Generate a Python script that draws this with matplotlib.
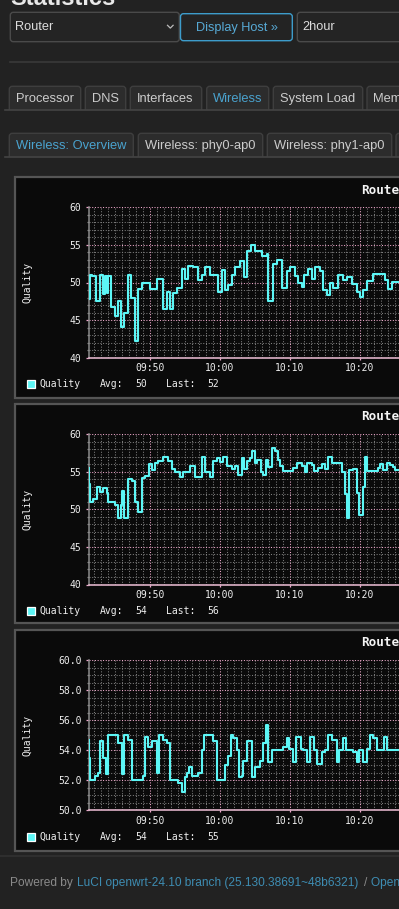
import matplotlib
matplotlib.use("Agg")
import matplotlib.pyplot as plt
from matplotlib.patches import FancyBboxPatch, Rectangle
from matplotlib.ticker import MultipleLocator, FuncFormatter, FormatStrFormatter

# page text
host_names = ["Router"]
timespans = ["2hour"]
main_tabs = ["Processor", "DNS", "Interfaces", "Wireless", "System Load", "Memory"]
sub_tabs = ["Wireless: Overview", "Wireless: phy0-ap0", "Wireless: phy1-ap0", "Wireless: phy1-ap1"]

# time in minutes after 09:40, quality values (step data)
t_overview = [1.33, 1.5, 1.71, 2.33, 2.9, 3.38, 3.62, 3.86, 4.1, 4.48, 5.05, 5.43, 5.9, 6.38,
              6.95, 7.3, 7.9, 8.38, 8.95, 10.05, 11.0, 11.95, 12.43, 12.9, 13.38, 13.86, 14.57,
              15.05, 15.52, 16.24, 16.95, 17.43, 17.9, 18.62, 19.81, 20.29, 20.76, 21.24, 21.71,
              22.19, 22.9, 23.48, 23.95, 24.43, 25.05, 26.0, 26.71, 26.95, 27.57, 28.14, 28.86,
              29.57, 30.05, 30.76, 31.24, 31.71, 32.05, 32.67, 33.14, 33.62, 34.33, 34.71, 35.29,
              35.76, 36.24, 36.95, 37.57, 38.14, 38.86, 39.57, 40.05, 40.52, 41.0, 41.95, 43.62,
              44.1, 44.57, 45.62]
q_overview = [47.8, 51.0, 50.8, 47.6, 51.0, 48.5, 50.8, 48.6, 50.8, 46.7, 45.5, 47.5, 44.1, 46.0,
              51.0, 48.0, 42.2, 49.2, 50.0, 49.1, 50.4, 46.5, 48.8, 46.5, 48.6, 49.3, 51.8,
              50.4, 52.2, 52.0, 50.3, 51.0, 52.0, 51.0, 48.7, 51.7, 49.0, 49.7, 51.0,
              52.0, 52.8, 50.7, 54.2, 55.0, 54.2, 53.5, 53.8, 47.6, 52.5, 53.0, 49.3,
              51.5, 52.1, 50.9, 50.0, 49.4, 51.0, 51.8, 50.5, 52.1, 51.5, 49.0, 48.4,
              49.9, 49.3, 51.0, 50.3, 50.7, 49.8, 48.8, 48.1, 49.0, 50.2, 51.1, 50.3,
              49.2, 50.1, 50.1]

t_phy0 = [1.33, 1.38, 1.48, 1.95, 2.43, 2.9, 3.38, 3.86, 4.1, 5.05, 5.43, 5.9, 6.1, 6.38, 6.95,
          7.43, 7.9, 8.38, 8.95, 9.33, 9.9, 10.29, 10.76, 11.24, 11.95, 12.67, 13.14, 13.62,
          14.33, 14.81, 15.76, 16.48, 17.43, 17.9, 18.62, 19.1, 19.57, 20.05, 20.52, 21.0,
          21.71, 22.19, 22.67, 23.14, 23.47, 23.85, 24.33, 24.57, 25.04, 25.38, 25.85, 26.14,
          26.57, 26.95, 27.42, 27.9, 28.38, 28.61, 29.0, 30.52, 31.0, 31.71, 32.19, 32.42,
          33.14, 33.47, 34.09, 34.57, 35.04, 35.52, 36.0, 37.42, 37.9, 38.23, 38.52, 39.09,
          39.66, 39.95, 40.52, 40.76, 41.0, 42.66, 42.9, 43.38, 43.85, 44.33, 44.8, 45.04, 45.62]
q_phy0 = [55.5, 53.4, 51.0, 51.3, 52.9, 52.3, 52.8, 52.2, 51.0, 50.6, 48.8, 50.6, 52.4, 48.9, 54.0,
          53.7, 51.0, 49.6, 54.1, 54.4, 56.0, 55.2, 56.2, 56.4, 57.0, 56.4, 55.3, 55.0,
          54.3, 55.0, 55.8, 54.3, 57.0, 54.9, 54.3, 56.4, 56.8, 56.3, 56.9, 55.8,
          55.3, 55.8, 54.5, 56.8, 55.3, 56.4, 56.8, 57.8, 56.1, 56.6, 55.0, 54.5,
          56.6, 55.6, 58.2, 57.8, 56.6, 55.7, 55.1, 55.5, 56.1, 55.7, 55.0, 56.1,
          55.9, 55.1, 55.5, 56.0, 55.3, 56.9, 56.1, 55.0, 52.0, 48.9, 55.2, 55.3,
          52.2, 49.2, 53.0, 56.9, 55.1, 55.5, 56.0, 55.2, 56.2, 55.9, 55.6, 55.2, 55.2]

t_phy1 = [1.33, 1.4, 1.48, 2.19, 2.6, 2.9, 3.38, 3.76, 4.0, 5.5, 5.98, 6.38, 6.95, 7.43, 9.1,
          9.33, 9.8, 10.29, 11.0, 11.33, 11.95, 12.43, 12.9, 14.1, 14.57, 15.05, 15.38, 15.62,
          16.0, 16.95, 17.43, 17.8, 19.1, 19.57, 20.76, 21.14, 21.57, 21.95, 22.43, 22.76,
          23.14, 23.4, 23.85, 24.57, 25.04, 25.76, 26.24, 26.6, 26.95, 27.42, 29.1, 29.57,
          29.95, 30.43, 30.9, 31.57, 31.95, 32.42, 32.9, 33.47, 33.85, 34.57, 35.04, 35.52,
          36.0, 36.7, 37.04, 37.67, 38.04, 39.09, 39.57, 39.95, 40.52, 41.0, 41.47, 41.95,
          42.52, 42.9, 43.47, 43.85, 45.62]
q_phy1 = [54.7, 53.5, 52.0, 52.3, 52.5, 54.6, 53.5, 52.4, 55.0, 54.5, 52.4, 55.0, 54.7, 52.0, 52.3,
          54.9, 54.2, 54.6, 52.5, 55.0, 54.7, 54.5, 52.0, 51.8, 51.2, 52.2, 52.5, 52.9,
          52.3, 52.5, 54.0, 55.0, 54.6, 52.0, 53.0, 53.6, 55.0, 54.8, 54.0, 52.2,
          52.3, 53.3, 54.6, 52.2, 52.9, 53.3, 54.5, 55.7, 53.2, 54.0, 54.2, 54.8,
          54.1, 53.2, 54.9, 54.1, 54.0, 53.2, 54.9, 54.0, 53.1, 53.9, 54.0, 55.0,
          54.7, 53.2, 54.0, 54.8, 54.0, 53.9, 53.2, 54.0, 53.2, 54.1, 55.0, 54.8,
          54.0, 54.0, 54.9, 54.0, 54.0]

avg_last = [("50", "52"), ("54", "56"), ("54", "55")]

W, H = 399, 909
BG = "#222222"
CYAN = "#5cf6f6"
MONO = "DejaVu Sans Mono"
SANS = "Liberation Sans"

fig = plt.figure(figsize=(W / 100, H / 100), dpi=100, facecolor=BG)
bg = fig.add_axes([0, 0, 1, 1])
bg.set_xlim(0, W)
bg.set_ylim(H, 0)
bg.axis("off")


def rbox(x0, y0, x1, y1, fc, ec, lw=1.0, r=3):
    p = FancyBboxPatch((x0 + r, y0 + r), x1 - x0 - 2 * r, y1 - y0 - 2 * r,
                       boxstyle="round,pad=%g" % r, fc=fc, ec=ec, lw=lw)
    bg.add_patch(p)


# heading (cut off at the top)
bg.text(10, 5, "Statistics", fontsize=17, fontweight="bold", color="#e8e8e8",
        family=SANS, va="baseline")

# host / button / timespan
rbox(10.3, 12.3, 179.3, 41.7, "#242424", "#4a4a4a")
bg.text(15, 27.5, host_names[0], fontsize=9.2, color="#dddddd", family=SANS, va="center")
bg.plot([167.5, 170.3, 173.1], [25.3, 28.1, 25.3], color="#bbbbbb", lw=0.9)
rbox(180.5, 13.7, 292.3, 40.7, "#232323", "#3d9ccb")
bg.text(236.5, 27.5, "Display Host \u00bb", fontsize=9.2, color="#57aad6", family=SANS,
        va="center", ha="center")
rbox(297.3, 12.3, 420, 41.7, "#242424", "#4a4a4a")
bg.text(302, 27.5, timespans[0], fontsize=9.2, color="#dddddd", family=SANS, va="center")

bg.plot([10, W], [62, 62], color="#3a3a3a", lw=1.2)

# main tabs
tab_x = [(9.3, 80.7), (85.3, 125.7), (130.3, 201.7), (206.7, 268.7), (273.3, 362.7), (367, 430)]
for name, (x0, x1) in zip(main_tabs, tab_x):
    rbox(x0, 86.3, x1, 113, "#2c2c2c", "#3e3e3e")
    col = "#4aa3cf" if name == "Wireless" else "#cccccc"
    bg.text(x0 + 6.4, 99.2, name, fontsize=9.3, color=col, family=SANS, va="center")
bg.add_patch(Rectangle((0, 110.3), W, 4, fc=BG, ec="none"))
bg.plot([5, W], [110.3, 110.3], color="#444444", lw=1.2)

# sub tabs
sub_x = [(9.3, 133.3), (138.3, 262.7), (267.3, 391.7), (396, 520)]
for i, (name, (x0, x1)) in enumerate(zip(sub_tabs, sub_x)):
    rbox(x0, 133.3, x1, 160, "#2c2c2c", "#3e3e3e")
    col = "#4aa3cf" if i == 0 else "#cccccc"
    bg.text(x0 + 6.4, 146.2, name, fontsize=9.3, color=col, family=SANS, va="center")
bg.add_patch(Rectangle((0, 157.2), W, 4, fc=BG, ec="none"))
bg.plot([5, W], [157.2, 157.2], color="#444444", lw=1.2)

T0, T1 = 1.33, 45.614


def hhmm(v, pos):
    m = int(round(v)) + 40
    return "%02d:%02d" % (9 + m // 60, m % 60)


charts = [
    # frame top, frame bottom, plot top, plot bottom, ymin, ymax, major, minor, fmt, data
    (176.5, 398, 207.3, 357.7, 40, 60, 5, 1, "%d", t_overview, q_overview),
    (403.5, 623, 434.0, 584.5, 40, 60, 5, 1, "%d", t_phy0, q_phy0),
    (629.5, 851, 660.0, 810.3, 50, 60, 2, 0.5, "%.1f", t_phy1, q_phy1),
]

for k, (ft, fb, pt, pb, lo, hi, maj, mnr, fmt, tt, qq) in enumerate(charts):
    bg.add_patch(Rectangle((14.5, ft), 420, fb - ft, fc="#0a0a0a", ec="#555555", lw=1.6))
    bg.text(361, pt - 17.3, "Router", fontsize=9.1, fontweight="bold", color="#f4f4f4",
            family=MONO, va="center")
    bg.text(27.5, (pt + pb) / 2, "Quality", fontsize=7, color="#eeeeee", family=MONO,
            rotation=90, va="center", ha="center")
    ly = pb + 26.5
    bg.add_patch(Rectangle((26.5, ly - 4.2), 8.2, 8.4, fc=CYAN, ec="#ffffff", lw=0.9))
    avg, last = avg_last[k]
    for x, s in [(40, "Quality"), (99.7, "Avg:"), (135.7, avg), (165.7, "Last:"), (207, last)]:
        bg.text(x, ly, s, fontsize=7, color="#eeeeee", family=MONO, va="center")

    ax = fig.add_axes([89 / W, 1 - pb / H, (W - 89) / W, (pb - pt) / H])
    ax.set_facecolor("#0a0a0a")
    ax.step(tt, qq, where="post", color=CYAN, lw=1.5, zorder=3)
    ax.set_xlim(T0, T1)
    ax.set_ylim(lo, hi)
    ax.xaxis.set_major_locator(MultipleLocator(10))
    ax.xaxis.set_minor_locator(MultipleLocator(1))
    ax.yaxis.set_major_locator(MultipleLocator(maj))
    ax.yaxis.set_minor_locator(MultipleLocator(mnr))
    ax.xaxis.set_major_formatter(FuncFormatter(hhmm))
    ax.yaxis.set_major_formatter(FormatStrFormatter(fmt))
    ax.grid(which="minor", color="#7d7d7d", lw=0.75, linestyle=(0, (1, 1.6)))
    ax.grid(which="major", color="#f0a8cc", lw=0.75, linestyle=(0, (1, 1.6)))
    ax.set_axisbelow(True)
    for s in ("top", "right"):
        ax.spines[s].set_visible(False)
    ax.spines["left"].set_color("#8c8c8c")
    ax.spines["left"].set_linewidth(1.1)
    ax.spines["bottom"].set_color("#f0c0d8")
    ax.spines["bottom"].set_linewidth(1.1)
    ax.tick_params(axis="y", which="major", length=2.4, width=0.9, color="#f0a8cc", pad=3,
                   labelsize=7, labelcolor="#eeeeee")
    ax.tick_params(axis="y", which="minor", length=1.6, width=0.9, color="#8c8c8c")
    ax.tick_params(axis="x", which="major", length=1.6, width=0.9, color="#f0a8cc", pad=2.2,
                   labelsize=7, labelcolor="#eeeeee")
    ax.tick_params(axis="x", which="minor", length=0)
    for lab in ax.get_xticklabels() + ax.get_yticklabels():
        lab.set_family(MONO)

# footer
bg.plot([0, W], [855.5, 855.5], color="#2e2e2e", lw=1.5)
bg.text(10, 883, "Powered by", fontsize=8.6, color="#8a8a8a", family=SANS, va="center")
bg.text(76.7, 883, "LuCI openwrt-24.10 branch (25.130.38691~48b6321)", fontsize=8.6,
        color="#3e8db3", family=SANS, va="center")
bg.text(364.5, 883, "/", fontsize=8.6, color="#8a8a8a", family=SANS, va="center")
bg.text(371, 883, "OpenWrt 24.10", fontsize=8.6, color="#3e8db3", family=SANS, va="center")

fig.savefig("out.png", dpi=100, facecolor=BG)
